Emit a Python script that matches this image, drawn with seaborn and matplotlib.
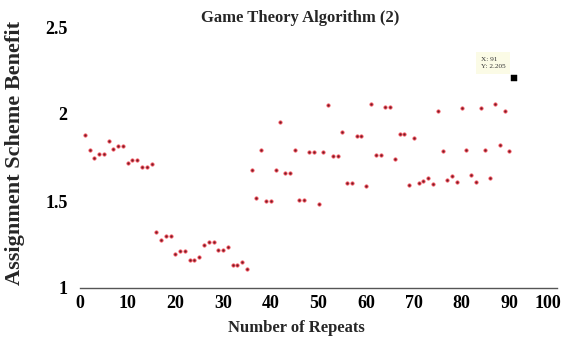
import numpy as np
import pandas as pd
import matplotlib
matplotlib.use("Agg")
import matplotlib.pyplot as plt
import matplotlib.transforms as mtransforms
import seaborn as sns

# ---- data ----
repeats = list(range(1, 92))
benefit = [
    1.879, 1.793, 1.749, 1.770, 1.770, 1.847, 1.797, 1.818, 1.818, 1.720,
    1.737, 1.736, 1.694, 1.694, 1.711, 1.322, 1.274, 1.297, 1.297, 1.194,
    1.211, 1.211, 1.161, 1.161, 1.178, 1.245, 1.263, 1.263, 1.218, 1.218,
    1.236, 1.134, 1.134, 1.149, 1.107, 1.676, 1.517, 1.793, 1.502, 1.502,
    1.678, 1.952, 1.659, 1.659, 1.793, 1.504, 1.504, 1.782, 1.782, 1.483,
    1.782, 2.053, 1.760, 1.760, 1.895, 1.603, 1.603, 1.875, 1.875, 1.586,
    2.057, 1.764, 1.764, 2.038, 2.038, 1.743, 1.883, 1.883, 1.590, 1.862,
    1.606, 1.613, 1.633, 1.599, 2.015, 1.787, 1.622, 1.645, 1.607, 2.033,
    1.795, 1.649, 1.611, 2.033, 1.795, 1.634, 2.059, 1.820, 2.015, 1.786,
    2.205,
]
x_ticks = [0, 10, 20, 30, 40, 50, 60, 70, 80, 90, 100]
y_ticks = [1, 1.5, 2, 2.5]
y_tick_labels = ["1", "1.5", "2", "2.5"]
tip_x, tip_y = 91, 2.205
tip_text = "X: 91\nY: 2.205"

df = pd.DataFrame({"repeats": repeats, "benefit": benefit})

sns.set_theme(style="white")
plt.rcParams["font.family"] = ["Liberation Serif", "DejaVu Serif"]
plt.rcParams["font.weight"] = "bold"

W, H = 569, 339
fig = plt.figure(figsize=(W / 100, H / 100), dpi=100)
ax = fig.add_axes([80 / W, 1 - 288 / H, (557 - 80) / W, (288 - 27) / H])

main = df[df["repeats"] != tip_x]
sns.scatterplot(data=main, x="repeats", y="benefit", ax=ax, marker="o", s=5,
                color="#6e1d28", edgecolor="#ee4a55", linewidth=0.7, legend=False, zorder=3)
sns.scatterplot(data=df[df["repeats"] == tip_x], x="repeats", y="benefit", ax=ax,
                marker="s", s=16, color="black", edgecolor="black", legend=False, zorder=4)

ax.set_xlim(0, 100)
ax.set_ylim(1, 2.5)
ax.set_xticks(x_ticks)
ax.set_yticks(y_ticks)
ax.set_yticklabels(y_tick_labels)
ax.set_xlabel("")
ax.set_ylabel("")

for s in ["top", "right", "left"]:
    ax.spines[s].set_visible(False)
ax.spines["bottom"].set_color("#555555")
ax.spines["bottom"].set_linewidth(1.0)
ax.tick_params(axis="both", direction="in", length=4, width=0.8, color="#888888",
               labelsize=13, labelcolor="black")
ax.tick_params(axis="y", pad=9)
ax.tick_params(axis="x", pad=5)
for lab in ax.get_xticklabels() + ax.get_yticklabels():
    lab.set_fontweight("bold")
last = ax.get_xticklabels()[-1]
last.set_transform(last.get_transform() + mtransforms.ScaledTranslation(-9 / 100, 0, fig.dpi_scale_trans))

fig.text(300 / W, 1 - 18 / H, "Game Theory Algorithm (2)", ha="center", va="center",
         fontsize=12, fontweight="bold")
fig.text(296 / W, 1 - 328 / H, "Number of Repeats", ha="center", va="center",
         fontsize=12, fontweight="bold")
fig.text(15 / W, 1 - 153 / H, "Assignment Scheme Benefit", ha="center", va="center",
         rotation=90, fontsize=16, fontweight="bold")

ax.annotate(tip_text, xy=(tip_x, tip_y), xytext=(-24, 11), textcoords="offset points",
            fontsize=5.2, fontweight="normal", color="#333333", ha="left", va="center",
            linespacing=1.7,
            bbox=dict(boxstyle="square,pad=0.6", facecolor="#fbfbe6", edgecolor="none"))

fig.savefig("out.png", dpi=100, facecolor="white")
